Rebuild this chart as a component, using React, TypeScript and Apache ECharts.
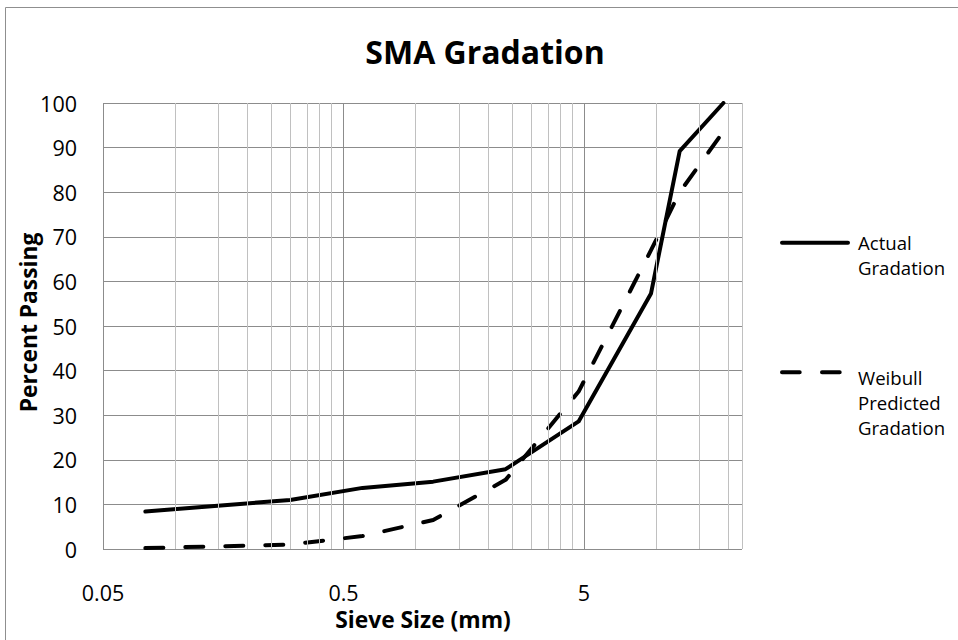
import React, { useEffect, useRef } from "react";
import * as echarts from "echarts";

// Sieve sizes (mm) and percent passing for the SMA mix
const SIEVE_SIZES = [0.075, 0.15, 0.3, 0.6, 1.18, 2.36, 4.75, 9.5, 12.5, 19];
const ACTUAL_GRADATION = [8.4, 9.7, 11.0, 13.7, 15.1, 17.9, 28.6, 57.3, 89.2, 100];
const WEIBULL_GRADATION = [0.2, 0.6, 1.0, 2.9, 6.5, 15.5, 35.3, 67.0, 80.0, 93.6];

// Log axis range (mm) and labels for each decade starting at 0.05
const X_MIN = 0.05;
const X_MAX = 22.7;
const X_TICK_LABELS = ["0.05", "0.5", "5"];
const MINOR_MULTIPLES = [2, 3, 4, 5, 6, 7, 8, 9];

const Y_MIN = 0;
const Y_MAX = 100;
const Y_STEP = 10;

const FONT = "'Open Sans', sans-serif";
const TICK_SIZE = 21.5;
const AXIS_TITLE_SIZE = 22.8;
const LEGEND_SIZE = 18.6;
const MAJOR_GRID = "#8c8c8c";
const MINOR_GRID = "#c0c0c0";

// position along the x axis in decades above X_MIN
const toDecade = (mm: number) => Math.log10(mm / X_MIN);

export default function App() {
  const ref = useRef<HTMLDivElement>(null);

  useEffect(() => {
    if (!ref.current) return;
    const chart = echarts.init(ref.current, undefined, { renderer: "svg" });
    const xMax = toDecade(X_MAX);

    const minorLines: number[] = [];
    for (let d = 0; d < Math.ceil(xMax); d++) {
      for (const k of MINOR_MULTIPLES) {
        const v = d + Math.log10(k);
        if (v < xMax) minorLines.push(v);
      }
    }

    const toPoints = (vals: number[]) =>
      SIEVE_SIZES.map((s, i) => [toDecade(s), vals[i]]);

    const legendText = (text: string, y: number) => ({
      type: "text",
      x: 858,
      y,
      style: { text, font: `${LEGEND_SIZE}px ${FONT}`, fill: "#000", verticalAlign: "middle" },
    });

    chart.setOption({
      animation: false,
      backgroundColor: "#ffffff",
      grid: { left: 103, top: 103, right: 216, bottom: 91, containLabel: false },
      xAxis: {
        type: "value",
        min: 0,
        max: xMax,
        interval: 1,
        axisLine: { show: false },
        axisTick: { show: false },
        axisLabel: {
          margin: 32,
          fontSize: TICK_SIZE,
          fontFamily: FONT,
          color: "#000",
          showMaxLabel: false,
          formatter: (v: number) =>
            Math.abs(v - Math.round(v)) < 1e-6 ? X_TICK_LABELS[Math.round(v)] ?? "" : "",
        },
        splitLine: {
          show: true,
          lineStyle: { color: [MAJOR_GRID, MAJOR_GRID, MAJOR_GRID, MINOR_GRID], width: 1 },
        },
      },
      yAxis: {
        type: "value",
        min: Y_MIN,
        max: Y_MAX,
        interval: Y_STEP,
        axisLine: { show: false },
        axisTick: { show: false },
        axisLabel: { margin: 26, fontSize: TICK_SIZE, fontFamily: FONT, color: "#000" },
        splitLine: { show: true, lineStyle: { color: MAJOR_GRID, width: 1 } },
      },
      series: [
        {
          name: "minor-grid",
          type: "line",
          data: [],
          z: -1,
          silent: true,
          markLine: {
            silent: true,
            symbol: ["none", "none"],
            label: { show: false },
            lineStyle: { color: MINOR_GRID, width: 1, type: "solid" },
            emphasis: { disabled: true },
            data: minorLines.map((v) => ({ xAxis: v })),
          },
        },
        {
          name: "Actual Gradation",
          type: "line",
          data: toPoints(ACTUAL_GRADATION),
          symbol: "none",
          lineStyle: { color: "#000", width: 4, cap: "round", join: "round" },
        },
        {
          name: "Weibull Predicted Gradation",
          type: "line",
          data: toPoints(WEIBULL_GRADATION),
          symbol: "none",
          lineStyle: {
            color: "#000",
            width: 4,
            type: [18, 22],
            cap: "round",
            join: "round",
          },
        },
      ],
      graphic: [
        {
          type: "rect",
          silent: true,
          shape: { x: 5.5, y: 7.5, width: 1000, height: 1000 },
          style: { fill: "none", stroke: "#8f8f8f", lineWidth: 1 },
        },
        {
          type: "text",
          x: 485,
          y: 51,
          style: {
            text: "SMA Gradation",
            font: `bold 32px ${FONT}`,
            fill: "#000",
            align: "center",
            verticalAlign: "middle",
          },
        },
        {
          type: "text",
          x: 423,
          y: 619,
          style: {
            text: "Sieve Size (mm)",
            font: `bold ${AXIS_TITLE_SIZE}px ${FONT}`,
            fill: "#000",
            align: "center",
            verticalAlign: "middle",
          },
        },
        {
          type: "text",
          x: 28,
          y: 322.5,
          rotation: Math.PI / 2,
          style: {
            text: "Percent Passing",
            font: `bold ${AXIS_TITLE_SIZE}px ${FONT}`,
            fill: "#000",
            align: "center",
            verticalAlign: "middle",
          },
        },
        // legend
        {
          type: "line",
          shape: { x1: 782, y1: 242.7, x2: 848, y2: 242.7 },
          style: { stroke: "#000", lineWidth: 4, lineCap: "round" },
        },
        legendText("Actual", 242.5),
        legendText("Gradation", 267.5),
        {
          type: "line",
          shape: { x1: 782, y1: 372.3, x2: 839.7, y2: 372.3 },
          style: { stroke: "#000", lineWidth: 4, lineCap: "round", lineDash: [17.7, 22.3] },
        },
        legendText("Weibull", 377.5),
        legendText("Predicted", 402.5),
        legendText("Gradation", 427.5),
      ],
    });

    return () => chart.dispose();
  }, []);

  return (
    <div
      ref={ref}
      style={{ position: "fixed", left: 0, top: 0, width: 958, height: 640, background: "#fff" }}
    />
  );
}
